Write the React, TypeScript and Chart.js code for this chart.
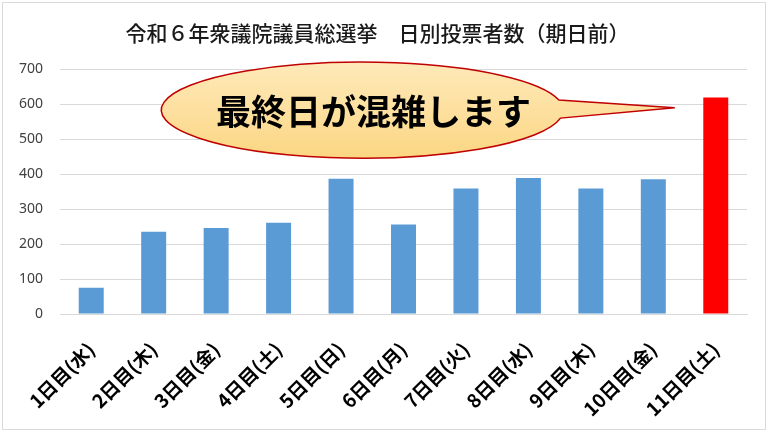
import React, { useEffect, useRef } from "react";
import { Chart, registerables } from "chart.js";

Chart.register(...registerables);

const title = "令和６年衆議院議員総選挙　日別投票者数（期日前）";
const days = [
  "1日目(水)",
  "2日目(木)",
  "3日目(金)",
  "4日目(土)",
  "5日目(日)",
  "6日目(月)",
  "7日目(火)",
  "8日目(水)",
  "9日目(木)",
  "10日目(金)",
  "11日目(土)",
];
const voters = [75, 235, 246, 261, 387, 256, 359, 389, 359, 385, 619];
const barColors = [
  "#5b9bd5",
  "#5b9bd5",
  "#5b9bd5",
  "#5b9bd5",
  "#5b9bd5",
  "#5b9bd5",
  "#5b9bd5",
  "#5b9bd5",
  "#5b9bd5",
  "#5b9bd5",
  "#ff0000",
];
const calloutText = "最終日が混雑します";

const JP = '"Noto Sans CJK JP", "Noto Sans", sans-serif';

// frame around the whole picture
const framePlugin = {
  id: "frame",
  beforeDraw(chart: Chart) {
    const { ctx, width, height } = chart;
    ctx.save();
    ctx.fillStyle = "#ffffff";
    ctx.fillRect(0, 0, width, height);
    ctx.strokeStyle = "#d9d9d9";
    ctx.lineWidth = 1;
    ctx.strokeRect(2.5, 2.5, width - 5, height - 5);
    ctx.restore();
  },
};

// wedge-shaped ellipse callout pointing at the last bar
const calloutPlugin = {
  id: "callout",
  afterDatasetsDraw(chart: Chart) {
    const { ctx } = chart;
    const x = chart.scales.x;
    const y = chart.scales.y;
    const cx = x.getPixelForValue(4.34);
    const cy = y.getPixelForValue(583);
    const rx = 201;
    const ry = 48;
    const tipX = x.getPixelForValue(10) - 41;
    const tipY = y.getPixelForValue(590);
    const a0 = Math.asin(8 / ry);
    const a1 = Math.PI * 2 - Math.asin(10 / ry);

    ctx.save();
    ctx.beginPath();
    ctx.ellipse(cx, cy, rx, ry, 0, a0, a1);
    ctx.lineTo(tipX, tipY);
    ctx.closePath();
    const grad = ctx.createLinearGradient(0, cy - ry, 0, cy + ry);
    grad.addColorStop(0, "#fee9b8");
    grad.addColorStop(0.5, "#fde0a0");
    grad.addColorStop(1, "#fbd682");
    ctx.fillStyle = grad;
    ctx.fill();
    ctx.strokeStyle = "#c00000";
    ctx.lineWidth = 1.5;
    ctx.stroke();

    ctx.fillStyle = "#000000";
    ctx.font = `bold 35px ${JP}`;
    ctx.textAlign = "center";
    ctx.textBaseline = "middle";
    ctx.fillText(calloutText, x.getPixelForValue(4.52), cy + 2);
    ctx.restore();
  },
};

export default function App() {
  const canvasRef = useRef<HTMLCanvasElement>(null);

  useEffect(() => {
    if (!canvasRef.current) return;
    const chart = new Chart(canvasRef.current, {
      type: "bar",
      data: {
        labels: days,
        datasets: [
          {
            data: voters,
            backgroundColor: barColors,
            borderWidth: 0,
            categoryPercentage: 1,
            barPercentage: 0.4,
          },
        ],
      },
      options: {
        animation: false,
        responsive: true,
        maintainAspectRatio: false,
        layout: { padding: { left: 8, right: 21, top: 0, bottom: 0 } },
        plugins: {
          legend: { display: false },
          tooltip: { enabled: false },
          title: {
            display: true,
            text: title,
            color: "#1a1a1a",
            font: { family: JP, size: 21, weight: 500, lineHeight: 1.2 },
            padding: { top: 20, bottom: 24 },
          },
        },
        scales: {
          x: {
            grid: { display: false },
            border: { display: true, color: "#d9d9d9" },
            ticks: {
              color: "#000000",
              font: { family: JP, size: 19, weight: "bold" },
              minRotation: 45,
              maxRotation: 45,
              padding: 16,
              autoSkip: false,
            },
            afterFit(scale: any) {
              scale.height = 118;
            },
          },
          y: {
            min: 0,
            max: 700,
            grid: { color: "#d9d9d9", drawTicks: false },
            border: { display: false },
            ticks: {
              stepSize: 100,
              color: "#404040",
              font: { family: '"Noto Sans", sans-serif', size: 14 },
              padding: 17,
            },
            afterFit(scale: any) {
              scale.width = 52;
            },
          },
        },
      },
      plugins: [framePlugin, calloutPlugin],
    });
    return () => chart.destroy();
  }, []);

  return (
    <div
      style={{
        position: "fixed",
        left: 0,
        top: 0,
        width: 768,
        height: 432,
        background: "#ffffff",
      }}
    >
      <canvas ref={canvasRef} />
    </div>
  );
}
